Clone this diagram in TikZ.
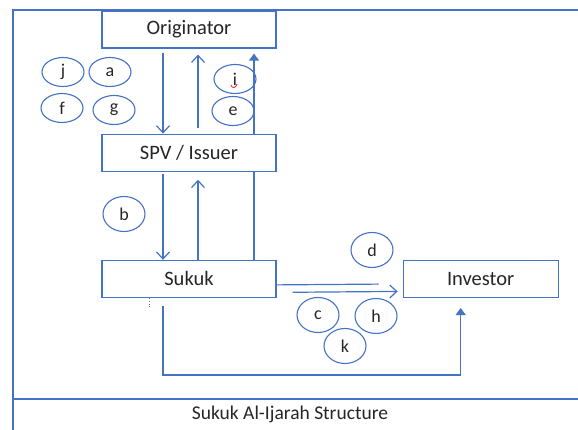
\documentclass[tikz,border=0pt]{standalone}
\usepackage{fontspec}
\setmainfont{Carlito}
\usepackage{xcolor}
\usetikzlibrary{shapes,arrows.meta,positioning}

\definecolor{ofblue}{RGB}{68,114,196}
\definecolor{txtgray}{RGB}{38,38,38}

\begin{document}
\begin{tikzpicture}[
    x=1pt, y=-1pt,
    text=txtgray,
    partybox/.style={draw=ofblue, line width=1.2pt, fill=white, minimum width=174pt, minimum height=37pt, inner sep=0pt, font=\fontsize{20.5}{23}\selectfont},
    steplabel/.style={draw=ofblue, line width=1.1pt, ellipse, minimum width=42pt, minimum height=29pt, inner sep=0pt, font=\fontsize{18}{20}\selectfont},
    tall/.style={minimum height=35pt},
    flow/.style={ofblue, line width=1.2pt, -{Straight Barb[length=7pt,width=13pt]}},
    cash/.style={ofblue, line width=1.2pt, -{Triangle[length=7pt,width=10pt]}}
]
\useasboundingbox (0,0) rectangle (578,430);

% frame and caption
\draw[ofblue, line width=2pt] (13,430) -- (13,10) -- (578,10);
\draw[ofblue, line width=1.5pt] (13,399) -- (578,399);
\node[font=\fontsize{19.5}{22}\selectfont] (caption) at (290,414) {Sukuk Al-Ijarah Structure};

% parties
\node[partybox] (orig) at (189,29.5) {Originator};
\node[partybox, below=85pt of orig] (spv) {SPV / Issuer};
\node[partybox, below=88pt of spv] (sukuk) {Sukuk};
\node[partybox, minimum width=155pt, right=126pt of sukuk] (inv) {Investor};

% flows
\draw[flow, shorten <=4pt] ([xshift=-26pt]orig.south) -- ([xshift=-26pt]spv.north);
\draw[flow, shorten <=6pt, shorten >=6pt] ([xshift=9pt]spv.north) -- ([xshift=9pt]orig.south);
\draw[flow, shorten <=2pt] ([xshift=-26pt]spv.south) -- ([xshift=-26pt]sukuk.north);
\draw[flow, shorten >=8pt] ([xshift=9pt]sukuk.north) -- ([xshift=9pt]spv.south);
\draw[ofblue, line width=1.2pt] ([xshift=65pt]sukuk.north) -- ([xshift=65pt]spv.south);
\draw[cash, shorten >=5pt] ([xshift=65pt]spv.north) -- ([xshift=65pt]orig.south);
\draw[ofblue, line width=1.2pt, shorten >=24pt] ([yshift=-6pt]sukuk.east) -- ([yshift=-5pt]inv.west);
\draw[flow, shorten <=16pt, shorten >=5pt] ([yshift=-13.5pt]sukuk.east) -- ([yshift=-12.5pt]inv.west);
\draw[cash, shorten <=8pt, shorten >=10pt] ([xshift=-26pt]sukuk.south) -- ++(0,77) -| ([xshift=-20pt]inv.south);
\draw[ofblue, dotted, line width=0.8pt] ([xshift=-40pt]sukuk.south) -- ++(0,10);

% step labels
\node[steplabel] (j1) at (63,72) {j};
\node[steplabel] (a) at (110,72) {a};
\node[steplabel] (f) at (62,108) {f};
\node[steplabel] (g) at (114,110) {g};
\node[steplabel] (i) at (235,79) {i};
\node[steplabel] (e) at (233,111) {e};
\node[steplabel, tall] (b) at (124,214) {b};
\node[steplabel, tall] (d) at (372,250) {d};
\node[steplabel, tall] (c) at (318,315) {c};
\node[steplabel, tall] (h) at (376,316) {h};
\node[steplabel, tall] (k) at (345,346) {k};
\draw[red, line width=0.7pt] ([xshift=-4pt,yshift=-6pt]i.center) .. controls +(1pt,-4pt) and +(-1pt,-4pt) .. ([xshift=2pt,yshift=-5pt]i.center);
\end{tikzpicture}
\end{document}
